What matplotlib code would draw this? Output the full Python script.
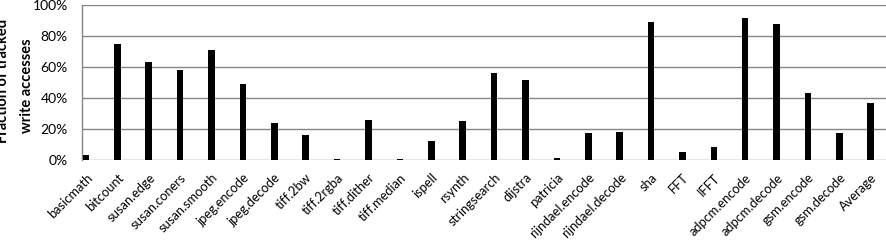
import matplotlib.pyplot as plt
import matplotlib.ticker as ticker

benchmarks = ["basicmath", "bitcount", "susan.edge", "susan.coners", "susan.smooth",
              "jpeg.encode", "jpeg.decode", "tiff.2bw", "tiff.2rgba", "tiff.dither",
              "tiff.median", "ispell", "rsynth", "stringsearch", "dijstra", "patricia",
              "rijndael.encode", "rijndael.decode", "sha", "FFT", "IFFT",
              "adpcm.encode", "adpcm.decode", "gsm.encode", "gsm.decode", "Average"]
fraction = [3.4, 75.0, 63.4, 58.3, 71.2,
            49.2, 24.0, 16.3, 0.7, 26.0,
            0.7, 12.4, 25.3, 56.3, 51.8, 1.5,
            17.6, 18.3, 89.2, 5.3, 8.8,
            91.8, 88.0, 43.4, 17.6, 37.0]
y_ticks = [0, 20, 40, 60, 80, 100]

plt.rcParams['font.family'] = ['Lato', 'DejaVu Sans']

fig = plt.figure(figsize=(8.86, 2.46), dpi=100)
ax = fig.add_axes([81.7 / 886, 1 - 160.3 / 246, (885.5 - 81.7) / 886, (160.3 - 5.3) / 246])

x = range(len(benchmarks))
ax.bar(x, fraction, width=0.21, color="black", zorder=3)

ax.set_ylim(0, 100)
ax.set_xlim(-0.137, 25.47)
ax.set_yticks(y_ticks)
ax.yaxis.set_major_formatter(ticker.FuncFormatter(lambda v, p: f"{int(v)}%"))
ax.yaxis.grid(True, color="#868686", linewidth=1.0, zorder=0)
ax.set_xticks(list(x))
ax.set_xticklabels(benchmarks, rotation=45, ha="right", rotation_mode="anchor", fontsize=9.3)
ax.tick_params(axis="y", length=0, pad=10, labelsize=10)
ax.tick_params(axis="x", length=0, pad=8)

for side in ["top", "right", "bottom"]:
    ax.spines[side].set_visible(False)
ax.spines["left"].set_color("#868686")
ax.spines["left"].set_linewidth(1.0)

fig.text(3 / 886, 1 - 81 / 246, "Fraction of tracked", rotation=90, fontsize=10.5,
         fontweight="bold", ha="center", va="center")
fig.text(27 / 886, 1 - 86 / 246, "write accesses", rotation=90, fontsize=10.5,
         fontweight="bold", ha="center", va="center")

plt.savefig("out.png", dpi=100)
